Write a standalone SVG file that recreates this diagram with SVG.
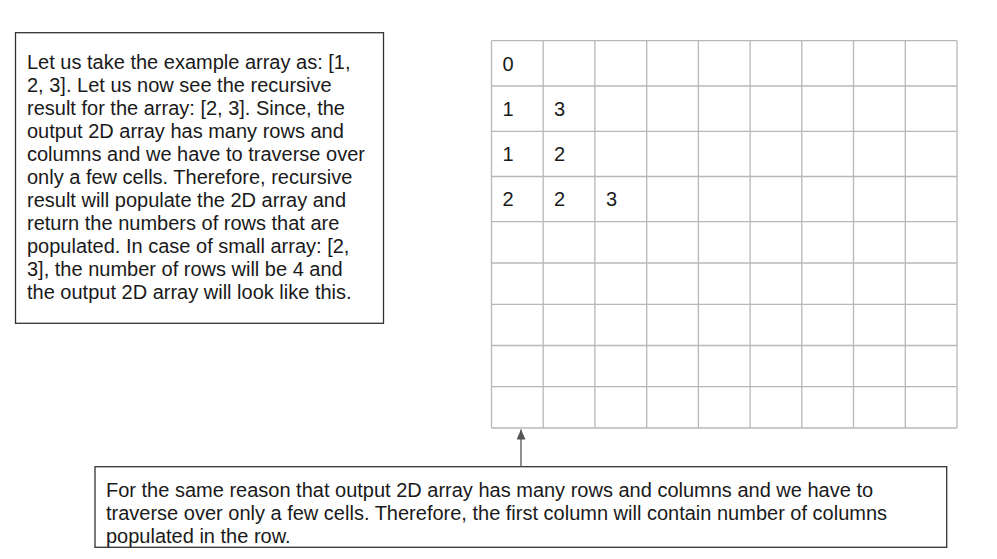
<svg xmlns="http://www.w3.org/2000/svg" width="997" height="559" viewBox="0 0 997 559">
<defs>
<style>
.txt{font-family:"Liberation Sans",Arial,sans-serif;font-size:20px;fill:#1a1a1a}
.box{fill:#ffffff;stroke:#333333;stroke-width:1.3}
.grid line{stroke:#b8b8b8;stroke-width:1.3}
.conn{stroke:#555555;stroke-width:1.3;fill:none}
</style>
<marker id="arr" markerWidth="11" markerHeight="9" refX="10" refY="4.5" orient="auto" markerUnits="userSpaceOnUse" viewBox="0 0 11 9">
<path d="M0,0 L10,4.5 L0,9 Z" fill="#555555"/>
</marker>
</defs>
<rect width="997" height="559" fill="#ffffff"/>

<g id="explain-box">
<rect class="box" x="15.5" y="32.7" width="368" height="290.6"/>
<text class="txt" x="27" y="69">
<tspan x="27" y="69">Let us take the example array as: [1,</tspan>
<tspan x="27" y="92">2, 3]. Let us now see the recursive</tspan>
<tspan x="27" y="115">result for the array: [2, 3]. Since, the</tspan>
<tspan x="27" y="138">output 2D array has many rows and</tspan>
<tspan x="27" y="161">columns and we have to traverse over</tspan>
<tspan x="27" y="184">only a few cells. Therefore, recursive</tspan>
<tspan x="27" y="207">result will populate the 2D array and</tspan>
<tspan x="27" y="230">return the numbers of rows that are</tspan>
<tspan x="27" y="253">populated. In case of small array: [2,</tspan>
<tspan x="27" y="276">3], the number of rows will be 4 and</tspan>
<tspan x="27" y="299">the output 2D array will look like this.</tspan>
</text>
</g>

<g id="array-grid" class="grid">
<line x1="491.5" y1="40.7" x2="491.5" y2="428"/>
<line x1="543.2" y1="40.7" x2="543.2" y2="428"/>
<line x1="594.9" y1="40.7" x2="594.9" y2="428"/>
<line x1="646.7" y1="40.7" x2="646.7" y2="428"/>
<line x1="698.4" y1="40.7" x2="698.4" y2="428"/>
<line x1="750.1" y1="40.7" x2="750.1" y2="428"/>
<line x1="801.8" y1="40.7" x2="801.8" y2="428"/>
<line x1="853.5" y1="40.7" x2="853.5" y2="428"/>
<line x1="905.3" y1="40.7" x2="905.3" y2="428"/>
<line x1="957" y1="40.7" x2="957" y2="428"/>
<line x1="491.5" y1="40.7" x2="957" y2="40.7"/>
<line x1="491.5" y1="86" x2="957" y2="86"/>
<line x1="491.5" y1="131.3" x2="957" y2="131.3"/>
<line x1="491.5" y1="176.5" x2="957" y2="176.5"/>
<line x1="491.5" y1="221.7" x2="957" y2="221.7"/>
<line x1="491.5" y1="263" x2="957" y2="263"/>
<line x1="491.5" y1="304.3" x2="957" y2="304.3"/>
<line x1="491.5" y1="345.5" x2="957" y2="345.5"/>
<line x1="491.5" y1="386.7" x2="957" y2="386.7"/>
<line x1="491.5" y1="428" x2="957" y2="428"/>
<text class="txt" x="502.5" y="70.5">0</text>
<text class="txt" x="502.5" y="116">1</text>
<text class="txt" x="554" y="116">3</text>
<text class="txt" x="502.5" y="161">1</text>
<text class="txt" x="554" y="161">2</text>
<text class="txt" x="502.5" y="206">2</text>
<text class="txt" x="554" y="206">2</text>
<text class="txt" x="606" y="206">3</text>
</g>

<g id="note-box">
<rect class="box" x="95" y="466.7" width="851.7" height="80.6"/>
<text class="txt">
<tspan x="106" y="497">For the same reason that output 2D array has many rows and columns and we have to</tspan>
<tspan x="106" y="520">traverse over only a few cells. Therefore, the first column will contain number of columns</tspan>
<tspan x="106" y="543">populated in the row.</tspan>
</text>
</g>

<g id="connectors">
<line class="conn" x1="521" y1="466.7" x2="521" y2="429.5" marker-end="url(#arr)"/>
</g>
</svg>
